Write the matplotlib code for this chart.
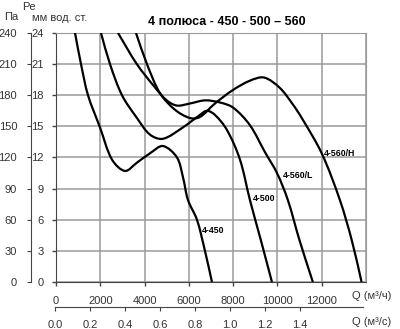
import matplotlib.pyplot as plt
from matplotlib.path import Path
from matplotlib.patches import PathPatch

plt.rcParams['font.family'] = ['Liberation Sans', 'DejaVu Sans']

# Q, м3/ч  /  Pe, мм вод. ст.
q_450 = [858, 1129, 1445, 1986, 2528, 3115, 3657, 4244, 4831, 5463, 5734, 5960, 6366, 6727, 7043]
p_450 = [24, 21.0, 18.0, 14.9, 11.8, 10.7, 11.5, 12.4, 13.1, 12.0, 10.1, 7.9, 6.0, 3.0, 0]

q_500 = [2032, 2438, 2980, 3657, 4244, 4831, 5734, 6501, 6817, 7178, 7720, 8307, 8758, 9255, 9752]
p_500 = [24, 21.0, 18.0, 15.8, 14.2, 13.8, 14.9, 16.1, 16.5, 16.1, 14.65, 11.8, 7.9, 4.0, 0]

q_560l = [2799, 3650, 4450, 5000, 5463, 6050, 6730, 7400, 8000, 8760, 9440, 9980, 10470, 11000, 11600]
p_560l = [24, 21.0, 18.8, 17.5, 17.0, 17.2, 17.5, 17.3, 16.8, 15.1, 12.5, 10.5, 7.9, 4.0, 0]

q_560h = [3612, 4108, 4695, 5372, 6050, 6500, 7178, 7991, 8760, 9400, 10110, 10700, 11100, 12000, 12820, 13360, 13800]
p_560h = [24, 21.0, 18.2, 16.6, 15.8, 15.9, 17.2, 18.5, 19.4, 19.7, 18.7, 17.1, 15.8, 12.4, 7.9, 4.0, 0]

curves = [(q_450, p_450), (q_500, p_500), (q_560l, p_560l), (q_560h, p_560h)]
names = ['4-450', '4-500', '4-560/L', '4-560/H']
label_pos = [(6590, 5.0), (8890, 8.0), (10250, 10.3), (12100, 12.4)]

# примерный масштаб осей в пикселях (для гладкости кривых)
SX = 310 / 14000
SY = 249 / 24


def smooth_path(xs, ys):
    # bezier, касательные по длине хорды
    n = len(xs)
    d = [((SX * (xs[i + 1] - xs[i])) ** 2 + (SY * (ys[i + 1] - ys[i])) ** 2) ** 0.5 for i in range(n - 1)]
    tx, ty = [], []
    for i in range(n):
        a = max(i - 1, 0)
        b = min(i + 1, n - 1)
        s = sum(d[a:b])
        tx.append((xs[b] - xs[a]) / s)
        ty.append((ys[b] - ys[a]) / s)
    verts = [(xs[0], ys[0])]
    codes = [Path.MOVETO]
    for i in range(n - 1):
        h = d[i] / 3
        verts += [(xs[i] + tx[i] * h, ys[i] + ty[i] * h),
                  (xs[i + 1] - tx[i + 1] * h, ys[i + 1] - ty[i + 1] * h),
                  (xs[i + 1], ys[i + 1])]
        codes += [Path.CURVE4] * 3
    return Path(verts, codes)


fig = plt.figure(figsize=(4, 3.29), dpi=100)
ax = fig.add_axes([0.14, 0.1429, 0.775, 0.757])

for (q, p), name, pos in zip(curves, names, label_pos):
    patch = PathPatch(smooth_path(q, p), facecolor='none', edgecolor='black', lw=1.6,
                      transform=ax.transData, zorder=3)
    ax.add_patch(patch)
    patch.set_clip_path(ax.patch)
    ax.text(pos[0], pos[1], name, fontsize=6.3, fontweight='bold', va='center', ha='left', zorder=4)

ax.set_xlim(0, 14000)
ax.set_ylim(0, 24)
ax.set_xticks(range(0, 12001, 2000))
ax.set_yticks(range(0, 25, 3))
ax.grid(True, color='#9a9a9a', lw=1.1)
ax.axvline(14000, color='#9a9a9a', lw=1.1)
ax.tick_params(direction='out', length=3, width=1, colors='#444444', labelsize=8, labelcolor='#333333')
ax.tick_params(axis='y', pad=6)
ax.tick_params(axis='x', pad=7)
for s in ['top', 'right']:
    ax.spines[s].set_color('#9a9a9a')
for s in ['left', 'bottom']:
    ax.spines[s].set_color('#444444')

# Па
axp = fig.add_axes([0.14, 0.1429, 0.775, 0.757])
axp.patch.set_visible(False)
axp.set_ylim(0, 240)
axp.set_yticks(range(0, 241, 30))
axp.set_xticks([])
for s in ['top', 'right', 'bottom']:
    axp.spines[s].set_visible(False)
axp.spines['left'].set_position(('outward', 18))
axp.spines['left'].set_color('#444444')
axp.tick_params(direction='out', length=3, colors='#444444', labelsize=8, labelcolor='#333333', pad=7)

# м3/с
axs = fig.add_axes([55 / 400, 1 - 307 / 329, 308 / 400, 0.001])
axs.patch.set_visible(False)
axs.set_xlim(0, 1.76)
axs.set_xticks([0, 0.2, 0.4, 0.6, 0.8, 1.0, 1.2, 1.4])
axs.set_xticklabels(['0.0', '0.2', '0.4', '0.6', '0.8', '1.0', '1.2', '1.4'])
axs.set_yticks([])
for s in ['top', 'right', 'left']:
    axs.spines[s].set_visible(False)
axs.spines['bottom'].set_color('#444444')
axs.tick_params(direction='out', length=3, colors='#444444', labelsize=8, labelcolor='#333333', pad=6)

fig.text(0.5675, 0.933, '4 полюса - 450 - 500 – 560', fontsize=9, fontweight='bold', ha='center', va='center')
fig.text(29 / 400, 1 - 7 / 329, 'Pe', fontsize=8, color='#333333', ha='center', va='center')
fig.text(11 / 400, 1 - 17 / 329, 'Па', fontsize=8, color='#333333', ha='center', va='center')
fig.text(60 / 400, 1 - 18 / 329, 'мм вод. ст.', fontsize=8, color='#333333', ha='center', va='center')
fig.text(352 / 400, 1 - 296 / 329, 'Q (м³/ч)', fontsize=8, color='#333333', ha='left', va='center')
fig.text(352 / 400, 1 - 322 / 329, 'Q (м³/с)', fontsize=8, color='#333333', ha='left', va='center')

plt.savefig('out.png', dpi=100)
